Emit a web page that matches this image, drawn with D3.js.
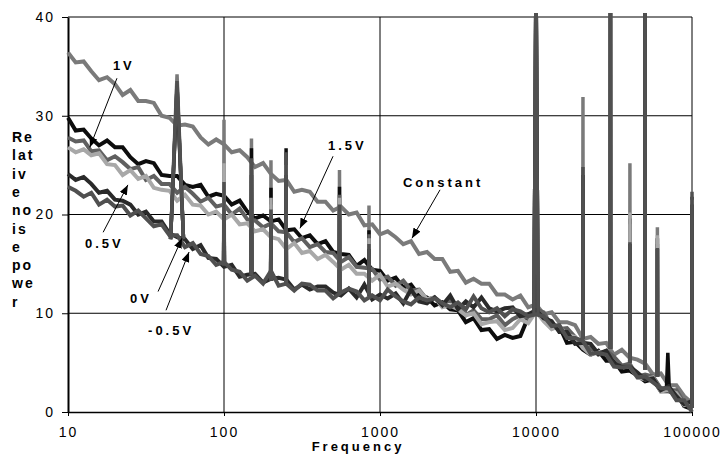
<!DOCTYPE html>
<html>
<head>
<meta charset="utf-8">
<script src="https://cdn.jsdelivr.net/npm/d3@7"></script>
<style>
  body { margin: 0; background: #fff; }
  text { font-family: "Liberation Sans", Arial, sans-serif; }
</style>
</head>
<body>
<svg id="chart" width="728" height="455"></svg>
<script>
// frequency bins (Hz)
var freq = [10, 11.2, 12.6, 14.1, 15.8, 17.8, 20, 22.4, 25.1, 28.2, 31.6, 35.5, 39.8, 44.7, 50.1, 56.2, 63.1, 70.8, 79.4, 89.1,
  100, 112, 126, 141, 158, 178, 200, 224, 251, 282, 316, 355, 398, 447, 501, 562, 631, 708, 794, 891,
  1000, 1120, 1260, 1410, 1580, 1780, 2000, 2240, 2510, 2820, 3160, 3550, 3980, 4470, 5010, 5620, 6310, 7080, 7940, 8910,
  10000, 11200, 12600, 14100, 15800, 17800, 20000, 22400, 25100, 28200, 31600, 35500, 39800, 44700, 50100, 56200, 63100, 70800, 79400, 89100,
  100000];

var seriesNames = ["Constant Bias", "1.5V", "1V", "0.5V", "-0.5V", "0V"];

var constBias = [36.4, 35.4, 35.5, 34.5, 33.6, 33.9, 33.2, 32.1, 32.6, 31.5,
  31.5, 31.3, 30.0, 29.8, 29.0, 29.1, 28.9, 27.8, 27.1, 27.6,
  27.1, 26.3, 26.5, 25.8, 24.8, 25.2, 24.1, 23.4, 23.5, 22.3,
  22.5, 22.3, 21.3, 21.3, 20.4, 20.8, 20.0, 20.2, 18.9, 19.0,
  18.0, 18.3, 17.7, 17.0, 17.3, 16.0, 16.2, 15.5, 15.5, 14.2,
  14.3, 13.1, 13.5, 13.0, 13.0, 11.9, 11.9, 11.4, 11.8, 10.6,
  10.9, 9.9, 10.1, 9.1, 9.1, 8.8, 7.4, 7.6, 6.9, 7.0,
  5.8, 6.3, 5.5, 5.3, 4.9, 3.8, 3.9, 2.7, 2.7, 1.6,
  0.9];
var bias15 = [29.8, 28.5, 28.6, 27.7, 27.0, 27.5, 26.8, 26.8, 25.8, 25.1,
  25.4, 25.2, 24.0, 23.9, 23.9, 23.0, 22.8, 23.0, 21.8, 22.1,
  21.9, 21.0, 21.4, 20.3, 19.6, 19.9, 19.3, 19.5, 18.4, 18.5,
  17.6, 17.9, 17.0, 17.3, 16.2, 16.0, 15.9, 14.8, 15.4, 14.4,
  14.3, 13.3, 13.6, 12.6, 12.9, 11.8, 11.6, 10.8, 11.1, 10.4,
  10.3, 9.1, 9.5, 8.3, 8.4, 7.4, 7.8, 7.5, 7.7, 9.6,
  10.0, 9.7, 8.6, 8.7, 7.0, 7.1, 6.3, 5.8, 6.2, 5.2,
  5.2, 4.1, 4.2, 3.7, 3.1, 3.3, 2.1, 2.1, 1.9, 0.6,
  0.3];
var bias10 = [27.8, 27.4, 27.5, 26.4, 26.5, 25.5, 25.9, 25.3, 24.6, 24.8,
  23.5, 23.9, 23.1, 23.1, 22.2, 22.8, 22.1, 21.3, 21.7, 20.8,
  21.0, 20.0, 20.6, 19.5, 19.4, 18.7, 19.1, 18.3, 18.2, 17.2,
  17.6, 16.7, 17.0, 16.2, 16.1, 15.2, 15.7, 14.7, 14.6, 14.5,
  13.4, 13.7, 12.8, 13.3, 12.3, 12.4, 11.4, 11.6, 11.0, 11.3,
  10.8, 9.8, 10.3, 9.4, 9.4, 9.8, 8.8, 9.4, 9.8, 9.5,
  10.4, 10.1, 8.7, 8.4, 8.5, 7.6, 6.5, 6.5, 5.8, 6.2,
  5.6, 4.7, 4.9, 3.6, 3.8, 3.6, 2.4, 2.2, 2.2, 0.9,
  0.8];
var bias05 = [26.8, 26.3, 26.6, 26.0, 26.2, 25.1, 25.0, 24.0, 24.5, 23.6,
  23.9, 22.7, 22.5, 22.4, 21.4, 22.0, 21.0, 20.9, 20.0, 20.3,
  19.5, 20.0, 19.0, 19.1, 18.3, 18.5, 17.7, 17.5, 16.5, 17.1,
  16.1, 16.3, 15.5, 15.9, 15.2, 14.4, 14.9, 14.0, 14.0, 13.3,
  13.9, 12.7, 13.0, 12.4, 11.9, 12.3, 11.4, 11.6, 10.6, 10.8,
  10.4, 9.8, 10.0, 8.9, 9.1, 9.2, 8.3, 8.5, 9.4, 9.0,
  10.2, 9.2, 8.4, 8.7, 7.8, 7.6, 6.5, 5.8, 6.1, 6.0,
  4.8, 4.6, 4.6, 3.5, 3.3, 3.5, 2.1, 2.2, 1.9, 0.7,
  1.0];
var biasM05 = [24.1, 23.5, 23.8, 23.1, 22.2, 22.4, 21.5, 21.4, 21.0, 20.0,
  20.3, 19.3, 19.3, 18.1, 17.7, 17.5, 16.5, 16.9, 15.6, 15.5,
  14.7, 14.9, 13.7, 13.9, 14.0, 13.1, 13.5, 13.6, 13.4, 12.4,
  12.9, 12.4, 12.7, 12.7, 12.1, 11.8, 12.5, 11.6, 12.9, 11.4,
  11.9, 11.5, 12.0, 11.0, 12.4, 11.2, 11.0, 11.6, 10.8, 11.8,
  10.4, 11.2, 10.6, 11.6, 10.5, 10.2, 10.5, 10.6, 9.7, 9.9,
  10.3, 9.5, 9.2, 8.1, 8.1, 6.9, 7.0, 6.9, 5.9, 6.2,
  4.9, 4.6, 4.6, 4.0, 3.3, 3.4, 2.2, 2.6, 1.6, 0.8,
  1.1];
var bias00 = [22.8, 22.4, 21.8, 22.2, 21.0, 21.5, 20.8, 20.9, 19.9, 20.4,
  19.6, 18.8, 19.0, 17.9, 17.9, 16.7, 17.1, 16.0, 15.8, 14.9,
  15.2, 14.4, 14.2, 13.3, 13.8, 13.0, 14.3, 12.8, 13.0, 12.3,
  13.0, 12.9, 12.3, 12.3, 11.5, 12.1, 12.5, 12.2, 11.3, 11.8,
  11.3, 12.4, 11.7, 11.2, 10.9, 11.6, 11.3, 11.5, 11.0, 10.6,
  11.1, 10.4, 11.7, 10.5, 10.1, 10.5, 9.7, 10.4, 10.2, 9.7,
  9.9, 9.7, 8.7, 8.8, 7.5, 7.5, 7.2, 5.9, 6.0, 5.8,
  4.6, 4.5, 4.6, 3.5, 3.6, 3.0, 2.4, 2.4, 1.2, 1.2,
  0.0];

// mains / bias harmonics
var peakFreq   = [50, 100, 150, 200, 250, 550, 850, 10000, 20000, 30000, 40000, 50000, 60000, 70000, 100000];
var peakBase   = [17.5, 14.8, 13.8, 13.3, 13.0, 12.1, 11.8, 10.0, 7.4, 6.4, 5.0, 4.3, 3.6, 2.6, 0.4];
var peakSpread = [0.1, 0.006, 0.005, 0.005, 0.005, 0.004, 0.004, 0.03, 0.003, 0.003, 0.003, 0.003, 0.003, 0.02, 0.002];
var peakConst = [34.2, 29.6, 27.7, 25.5, null, 24.5, 20.9, 45, 31.9, 45, 25.2, 45, 18.7, null, null];
var peak15    = [33.0, 22.0, 26.7, 22.7, 26.7, 22.8, 18.4, 45, 24.0, 45, 19.6, 45, 17.6, 6.0, 21.8];
var peak10    = [33.0, 22.5, 25.0, 21.0, 25.5, 22.0, 18.0, 45, 24.0, 45, 19.0, 45, 17.0, null, 21.5];
var peak05    = [32.5, 25.2, 25.0, 21.7, 25.0, 21.7, 17.6, 45, 24.0, 45, 20.2, 45, 17.9, null, 21.5];
var peakM05   = [32.5, 20.0, 24.0, 20.0, 24.0, 20.0, 16.5, 45, 24.0, 45, 17.0, 45, 16.5, null, 21.0];
var peak00    = [33.5, 23.3, 25.7, 20.5, 26.3, 21.0, 17.0, 45, 24.8, 45, 17.2, 45, 16.6, null, 22.3];

var yTicks = [0, 10, 20, 30, 40];
var xTicks = [10, 100, 1000, 10000, 100000];
var yTitleLines = ["Re", "lat", "iv", "e", "no", "is", "e", "po", "we", "r"];

var series = [
  {name: seriesNames[0], values: constBias, peaks: peakConst, color: "#7a7a7a"},
  {name: seriesNames[1], values: bias15, peaks: peak15, color: "#0d0d0d"},
  {name: seriesNames[2], values: bias10, peaks: peak10, color: "#606060"},
  {name: seriesNames[3], values: bias05, peaks: peak05, color: "#a8a8a8"},
  {name: seriesNames[4], values: biasM05, peaks: peakM05, color: "#2a2a2a"},
  {name: seriesNames[5], values: bias00, peaks: peak00, color: "#505050"}
];

// annotation labels and arrows, in data units
var notes = [
  {label: "1V", lx: 19.4, ly: 34.6, fx: 20.6, fy: 33.8, tx: 13.8, ty: 26.8},
  {label: "0.5V", lx: 12.85, ly: 16.6, fx: 16.8, fy: 18.2, tx: 24.2, ty: 23.0},
  {label: "1.5V", lx: 464, ly: 26.5, fx: 500, fy: 25.9, tx: 307, ty: 18.6},
  {label: "Constant", lx: 1404, ly: 22.8, fx: 2426, fy: 22.5, tx: 1603, ty: 17.6},
  {label: "0V", lx: 25.0, ly: 11.0, fx: 37.8, fy: 12.2, tx: 53.8, ty: 17.6},
  {label: "-0.5V", lx: 32.6, ly: 7.8, fx: 42.5, fy: 10.3, tx: 59.7, ty: 16.2}
];

var svg = d3.select("#chart"),
    margin = {top: 17, right: 36, bottom: 43, left: 68},
    width = +svg.attr("width") - margin.left - margin.right,
    height = +svg.attr("height") - margin.top - margin.bottom,
    g = svg.append("g").attr("transform", "translate(" + margin.left + "," + margin.top + ")");

var x = d3.scaleLog().domain([10, 100000]).range([0, width]);
var y = d3.scaleLinear().domain([0, 40]).range([height, 0]);

svg.append("defs").append("clipPath").attr("id", "plot")
  .append("rect")
    .attr("x", -2).attr("y", y(40) - 4)
    .attr("width", width + 5).attr("height", y(-2) - y(40) + 4);

// grid
g.append("g").selectAll("line")
  .data(yTicks.filter(function(d) { return d > 0 && d < 40; }))
  .enter().append("line")
    .attr("x1", 0).attr("x2", width)
    .attr("y1", y).attr("y2", y)
    .attr("stroke", "#000").attr("stroke-width", 1);

g.append("g").selectAll("line")
  .data(xTicks.slice(1, -1))
  .enter().append("line")
    .attr("x1", x).attr("x2", x)
    .attr("y1", 0).attr("y2", height)
    .attr("stroke", "#000").attr("stroke-width", 1);

// plot frame top / right
g.append("line").attr("x1", 0).attr("x2", width).attr("y1", y(40)).attr("y2", y(40))
  .attr("stroke", "#000");
g.append("line").attr("x1", width).attr("x2", width).attr("y1", 0).attr("y2", height)
  .attr("stroke", "#000");

// axes
var yAxis = g.append("g")
  .call(d3.axisLeft(y).tickValues(yTicks).tickSize(6).tickSizeOuter(0).tickPadding(7));
var xAxis = g.append("g")
  .attr("transform", "translate(0," + height + ")")
  .call(d3.axisBottom(x).tickValues(xTicks).tickFormat(d3.format("d")).tickSize(4).tickSizeOuter(0).tickPadding(11));

yAxis.select(".domain").attr("stroke-width", 2);
xAxis.select(".domain").attr("stroke-width", 1.5);
svg.selectAll(".tick text")
  .attr("font-family", "Liberation Sans, Arial, sans-serif")
  .attr("font-size", 14)
  .attr("letter-spacing", "2px")
  .attr("fill", "#000");

// data
var line = d3.line()
  .x(function(d) { return x(d[0]); })
  .y(function(d) { return y(d[1]); });

var plot = g.append("g").attr("clip-path", "url(#plot)");

series.forEach(function(s) {
  var pts = freq.map(function(f, i) { return [f, s.values[i]]; });
  plot.append("path")
    .datum(pts)
    .attr("fill", "none")
    .attr("stroke", s.color)
    .attr("stroke-width", 4)
    .attr("stroke-linejoin", "miter")
    .attr("d", line);

  peakFreq.forEach(function(f, i) {
    if (s.peaks[i] == null) return;
    var k = 1 + peakSpread[i];
    plot.append("path")
      .datum([[f / k, peakBase[i]], [f, s.peaks[i]], [f * k, peakBase[i]]])
      .attr("fill", "none")
      .attr("stroke", s.color)
      .attr("stroke-width", 3.5)
      .attr("d", line);
  });
});

// annotations
svg.select("defs").append("marker")
    .attr("id", "arrow")
    .attr("markerUnits", "userSpaceOnUse")
    .attr("markerWidth", 10).attr("markerHeight", 8)
    .attr("refX", 10).attr("refY", 4)
    .attr("orient", "auto")
  .append("path")
    .attr("d", "M0,0L10,4L0,8Z")
    .attr("fill", "#000");

var note = g.append("g").selectAll("g").data(notes).enter().append("g");
note.append("line")
  .attr("x1", function(d) { return x(d.fx); })
  .attr("y1", function(d) { return y(d.fy); })
  .attr("x2", function(d) { return x(d.tx); })
  .attr("y2", function(d) { return y(d.ty); })
  .attr("stroke", "#000").attr("stroke-width", 1)
  .attr("marker-end", "url(#arrow)");
note.append("text")
  .attr("x", function(d) { return x(d.lx); })
  .attr("y", function(d) { return y(d.ly); })
  .attr("font-size", 13).attr("font-weight", "bold")
  .attr("letter-spacing", "3px")
  .text(function(d) { return d.label; });

// second line of "Constant Bias" is cut off by the label box
var cb = notes[3];
svg.select("defs").append("clipPath").attr("id", "cbclip")
  .append("rect")
    .attr("x", x(cb.lx) - 5).attr("y", y(cb.ly) - 20)
    .attr("width", 100).attr("height", 25);
g.append("text")
  .attr("clip-path", "url(#cbclip)")
  .attr("x", x(cb.lx)).attr("y", y(cb.ly) + 16)
  .attr("font-size", 13).attr("font-weight", "bold")
  .attr("letter-spacing", "3px")
  .text("Bias");

// axis titles
svg.append("g").selectAll("text")
  .data(yTitleLines)
  .enter().append("text")
    .attr("x", 12)
    .attr("y", function(d, i) { return 142 + i * 18.3; })
    .attr("font-size", 14).attr("font-weight", "bold")
    .attr("letter-spacing", "2px")
    .text(function(d) { return d; });

svg.append("text")
  .attr("x", 358).attr("y", 451)
  .attr("text-anchor", "middle")
  .attr("font-size", 13).attr("font-weight", "bold")
  .attr("letter-spacing", "3px")
  .text("Frequency");
</script>
</body>
</html>
